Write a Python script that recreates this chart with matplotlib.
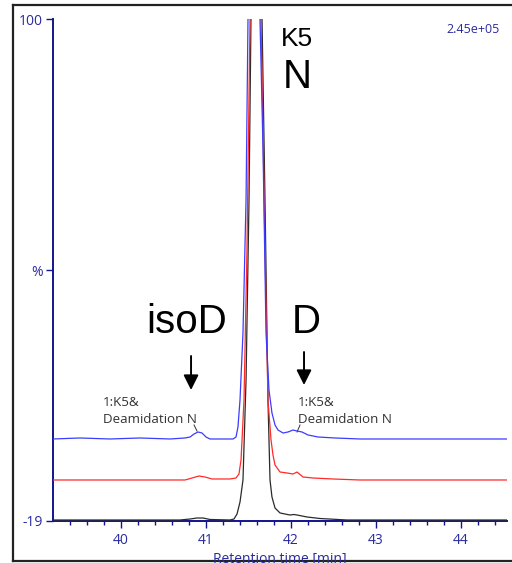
import matplotlib
matplotlib.use("Agg")
import matplotlib.pyplot as plt
from matplotlib.lines import Line2D

# ---------------- data ----------------
blue_t = [39.2, 39.518, 39.871, 40.224, 40.576, 40.753, 40.812, 40.859, 40.906, 40.953,
          41.0, 41.047, 41.224, 41.318, 41.353, 41.376, 41.4, 41.435, 41.471, 41.494,
          41.565, 41.635, 41.671, 41.706, 41.741, 41.776, 41.812, 41.847, 41.906, 41.965,
          42.024, 42.071, 42.129, 42.2, 42.318, 42.518, 42.812, 43.282, 43.871, 44.541]
blue_y = [0.44, 0.68, 0.44, 0.68, 0.44, 0.68, 0.91, 1.62, 2.10, 1.86,
          0.91, 0.44, 0.44, 0.44, 0.91, 3.28, 9.68, 25.57, 57.09, 100.0,
          400.0, 100.0, 68.95, 25.57, 12.05, 6.60, 3.76, 2.57, 1.86, 2.10,
          2.57, 2.33, 2.10, 1.39, 0.91, 0.68, 0.44, 0.44, 0.44, 0.44]

red_t = [39.2, 39.753, 40.341, 40.753, 40.835, 40.918, 40.988, 41.071, 41.282, 41.353,
         41.388, 41.412, 41.447, 41.482, 41.518, 41.58, 41.647, 41.694, 41.729, 41.765,
         41.788, 41.812, 41.871, 41.953, 42.024, 42.071, 42.141, 42.259, 42.494, 42.812,
         43.5, 44.541]
red_y = [-9.28, -9.28, -9.28, -9.28, -8.81, -8.33, -8.57, -9.04, -9.04, -8.81,
         -7.86, -4.54, 9.68, 45.24, 100.0, 400.0, 100.0, 45.24, 9.68, 0.20,
         -3.36, -5.73, -7.39, -7.62, -7.86, -7.39, -8.57, -8.81, -9.04, -9.28,
         -9.28, -9.28]

black_t = [39.2, 39.988, 40.694, 40.812, 40.894, 40.965, 41.047, 41.282, 41.329, 41.365,
           41.4, 41.435, 41.471, 41.506, 41.529, 41.59, 41.659, 41.694, 41.729, 41.753,
           41.776, 41.812, 41.871, 41.988, 42.035, 42.071, 42.188, 42.341, 42.659, 43.282,
           44.541]
black_y = [-18.76, -18.76, -18.76, -18.53, -18.29, -18.29, -18.64, -18.76, -18.53, -17.34,
           -14.50, -9.28, 14.42, 57.09, 100.0, 400.0, 100.0, 57.09, 9.68, -9.28,
           -13.31, -15.92, -17.10, -17.58, -17.46, -17.58, -18.05, -18.41, -18.76, -18.76,
           -18.76]

x_major = [40, 41, 42, 43, 44]
x_minor = [39.4, 39.6, 39.8, 40.2, 40.4, 40.6, 40.8, 41.2, 41.4, 41.6, 41.8,
           42.2, 42.4, 42.6, 42.8, 43.2, 43.4, 43.6, 43.8, 44.2, 44.4]
y_ticks = [-19, 40.5, 100]
y_labels = ["-19", "%", "100"]

# ---------------- figure ----------------
W, H = 512, 563
fig = plt.figure(figsize=(W / 100, H / 100), dpi=100)
ax = fig.add_axes([53 / W, 1 - 521 / H, (507 - 53) / W, (521 - 19) / H])

navy = "#14148c"
ticklab = "#2b2ba0"
small_font = "Open Sans"
big_font = "Liberation Sans"

ax.plot(black_t, black_y, color="#2a2a2a", lw=0.9, zorder=3)
ax.plot(red_t, red_y, color="#ff2a2a", lw=0.9, zorder=3)
ax.plot(blue_t, blue_y, color="#3c3cff", lw=0.9, zorder=3)

ax.set_xlim(39.2, 44.541)
ax.set_ylim(-19, 100)
for s in ["top", "right"]:
    ax.spines[s].set_visible(False)
for s in ["left", "bottom"]:
    ax.spines[s].set_color(navy)
    ax.spines[s].set_linewidth(1.4)
    ax.spines[s].set_zorder(2)

ax.set_xticks(x_major)
ax.set_xticks(x_minor, minor=True)
ax.set_xticklabels([str(v) for v in x_major])
ax.set_yticks(y_ticks)
ax.set_yticklabels(y_labels)
ax.tick_params(axis="both", which="major", direction="out", length=5, width=1.0,
               color=navy, labelcolor=ticklab, labelsize=10, pad=2)
ax.tick_params(axis="x", which="major", pad=4)
ax.tick_params(axis="x", which="minor", direction="out", length=3, width=1.0, color=navy)
for lab in ax.get_xticklabels() + ax.get_yticklabels():
    lab.set_fontfamily(small_font)

# ---------------- texts ----------------
ax.text(44.46, 97.6, "2.45e+05", ha="right", va="center", fontsize=9,
        color=ticklab, family=small_font)
ax.text(42.07, 95.3, "K5", ha="center", va="center", fontsize=19, color="black",
        family=big_font)
ax.text(42.07, 86.3, "N", ha="center", va="center", fontsize=29, color="black",
        family=big_font)
ax.text(40.77, 28.2, "isoD", ha="center", va="center", fontsize=29, color="black",
        family=big_font)
ax.text(42.18, 28.2, "D", ha="center", va="center", fontsize=29, color="black",
        family=big_font)

arrow_kw = dict(arrowstyle="-|>,head_length=0.9,head_width=0.45", color="black", lw=1.4,
                shrinkA=0, shrinkB=0)
ax.annotate("", xy=(40.824, 12.05), xytext=(40.824, 20.11), arrowprops=arrow_kw)
ax.annotate("", xy=(42.153, 13.24), xytext=(42.153, 21.06), arrowprops=arrow_kw)

lab_color = "#333333"
lab_fs = 9.6
ax.text(39.788, 9.1, "1:K5&", ha="left", va="center", fontsize=lab_fs, color=lab_color,
        family=small_font)
ax.text(39.788, 5.0, "Deamidation N", ha="left", va="center", fontsize=lab_fs,
        color=lab_color, family=small_font)
ax.text(42.082, 9.1, "1:K5&", ha="left", va="center", fontsize=lab_fs, color=lab_color,
        family=small_font)
ax.text(42.082, 5.0, "Deamidation N", ha="left", va="center", fontsize=lab_fs,
        color=lab_color, family=small_font)
ax.plot([40.859, 40.894], [3.76, 2.33], color=lab_color, lw=0.7)
ax.plot([42.106, 42.071], [3.76, 2.10], color=lab_color, lw=0.7)

fig.text(280 / W, 1 - 552 / H, "Retention time [min]", ha="center", va="top",
         fontsize=10, color=ticklab, family=small_font)

# outer frame
frame_kw = dict(color="#222222", lw=1.6, transform=fig.transFigure, clip_on=False)
fig.add_artist(Line2D([13 / W, 13 / W], [1 - 5 / H, 1 - 561 / H], **frame_kw))
fig.add_artist(Line2D([13 / W, 1.02], [1 - 5 / H, 1 - 5 / H], **frame_kw))
fig.add_artist(Line2D([13 / W, 1.02], [1 - 561 / H, 1 - 561 / H], **frame_kw))

fig.savefig("out.png", dpi=100)
